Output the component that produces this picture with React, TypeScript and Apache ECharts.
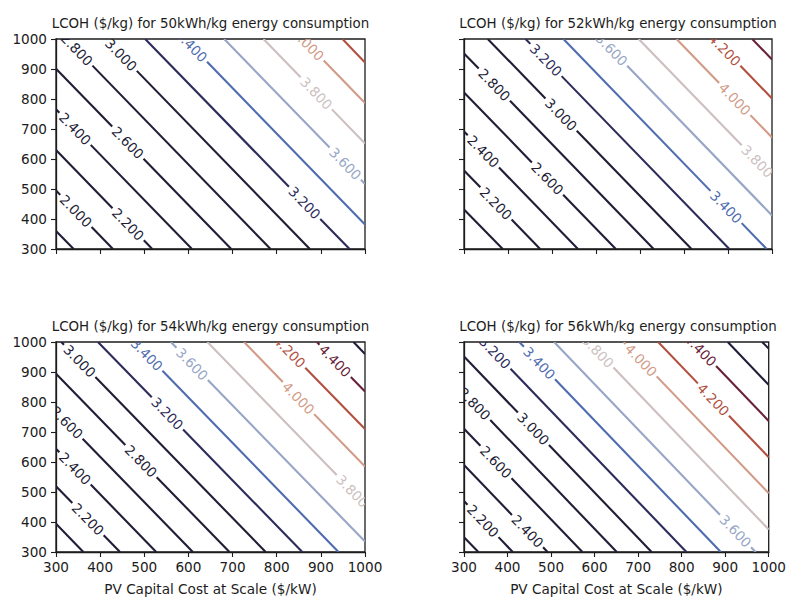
import React, { useEffect, useRef } from "react";
import * as echarts from "echarts";

// ---- chart data -----------------------------------------------------------
const panelTitles = [
  "LCOH ($/kg) for 50kWh/kg energy consumption",
  "LCOH ($/kg) for 52kWh/kg energy consumption",
  "LCOH ($/kg) for 54kWh/kg energy consumption",
  "LCOH ($/kg) for 56kWh/kg energy consumption",
];
const xAxisName = "PV Capital Cost at Scale ($/kW)";
const axisMin = 300;
const axisMax = 1000;
const axisStep = 100;

// Contour levels (LCOH, $/kg), their end points [PV cost, y value] where each
// contour enters and leaves the plotted box, and where along the line the
// inline label sits (fraction of the contour length, null = unlabeled).
const levels50 = [1.8, 2.0, 2.2, 2.4, 2.6, 2.8, 3.0, 3.2, 3.4, 3.6, 3.8, 4.0, 4.2];
const from50 = [[300, 360], [300, 495], [300, 630], [300, 766], [300, 901], [324, 1000], [413, 1000], [502, 1000], [592, 1000], [681, 1000], [770, 1000], [859, 1000], [949, 1000]];
const to50 = [[340, 300], [429, 300], [518, 300], [608, 300], [697, 300], [786, 300], [875, 300], [965, 300], [1000, 382], [1000, 517], [1000, 652], [1000, 787], [1000, 922]];
const labelAt50 = [null, 0.35, 0.75, 0.14, 0.41, 0.05, 0.075, 0.78, 0.036, 0.86, 0.52, 0.085, null];

const levels52 = [2.0, 2.2, 2.4, 2.6, 2.8, 3.0, 3.2, 3.4, 3.6, 3.8, 4.0, 4.2, 4.4];
const from52 = [[300, 432], [300, 562], [300, 692], [300, 822], [300, 952], [354, 1000], [440, 1000], [526, 1000], [612, 1000], [697, 1000], [783, 1000], [869, 1000], [955, 1000]];
const to52 = [[388, 300], [473, 300], [559, 300], [645, 300], [731, 300], [817, 300], [903, 300], [988, 300], [1000, 412], [1000, 542], [1000, 672], [1000, 802], [1000, 932]];
const labelAt52 = [null, 0.42, 0.17, 0.55, 0.16, 0.36, 0.1, 0.8, 0.06, 0.89, 0.61, 0.18, null];

const levels54 = [2.0, 2.2, 2.4, 2.6, 2.8, 3.0, 3.2, 3.4, 3.6, 3.8, 4.0, 4.2, 4.4, 4.6];
const from54 = [[300, 394], [300, 519], [300, 644], [300, 769], [300, 894], [312, 1000], [395, 1000], [478, 1000], [560, 1000], [643, 1000], [726, 1000], [808, 1000], [891, 1000], [974, 1000]];
const to54 = [[362, 300], [445, 300], [527, 300], [610, 300], [693, 300], [775, 300], [858, 300], [940, 300], [1000, 335], [1000, 460], [1000, 585], [1000, 710], [1000, 835], [1000, 960]];
const labelAt54 = [null, 0.5, 0.19, 0.08, 0.49, 0.09, 0.34, 0.06, 0.11, 0.92, 0.45, 0.11, 0.38, null];

const levels56 = [2.0, 2.2, 2.4, 2.6, 2.8, 3.0, 3.2, 3.4, 3.6, 3.8, 4.0, 4.2, 4.4, 4.6, 4.8];
const from56 = [[300, 349], [300, 470], [300, 590], [300, 711], [300, 831], [300, 952], [348, 1000], [427, 1000], [507, 1000], [587, 1000], [667, 1000], [746, 1000], [826, 1000], [906, 1000], [985, 1000]];
const to56 = [[333, 300], [412, 300], [492, 300], [572, 300], [651, 300], [731, 300], [811, 300], [890, 300], [970, 300], [1000, 375], [1000, 496], [1000, 616], [1000, 737], [1000, 857], [1000, 978]];
const labelAt56 = [null, 0.39, 0.76, 0.27, 0.07, 0.37, 0.05, 0.1, 0.9, 0.05, 0.12, 0.5, 0.1, null, null];

// ---- styling ----------------------------------------------------------------
const FONT = '"DejaVu Sans", "Noto Sans", sans-serif';
const TEXT = "#1c1c1c";
const FONT_SIZE = 13.6;
const TITLE_SIZE = 13.4;
const LABEL_SIZE = 13.6;
const LINE_W = 2.1;

// twilight-like palette keyed by level
const levelColors: Record<string, string> = {
  "3.2": "#2c2b5a",
  "3.4": "#4f6cb0",
  "3.6": "#97a6c6",
  "3.8": "#cdbfbf",
  "4.0": "#d19b87",
  "4.2": "#b2503f",
  "4.4": "#682237",
};
const DARK = "#221c36";
const colorOf = (v: number) => levelColors[v.toFixed(1)] || DARK;

// plot boxes in pixels: [left, top, width, height]
const boxes = [
  [56, 39, 309, 210],
  [464, 39, 308, 210],
  [56, 342, 309, 210],
  [464, 342, 308, 210],
];

const panels = [
  { levels: levels50, from: from50, to: to50, labelAt: labelAt50 },
  { levels: levels52, from: from52, to: to52, labelAt: labelAt52 },
  { levels: levels54, from: from54, to: to54, labelAt: labelAt54 },
  { levels: levels56, from: from56, to: to56, labelAt: labelAt56 },
];

let measureCtx: CanvasRenderingContext2D | null = null;
function textWidth(s: string, size: number): number {
  if (!measureCtx) measureCtx = document.createElement("canvas").getContext("2d");
  if (!measureCtx) return s.length * size * 0.6;
  measureCtx.font = `${size}px ${FONT}`;
  return measureCtx.measureText(s).width;
}

function contourItem(params: any, api: any) {
  const a = api.coord([api.value(0), api.value(1)]);
  const b = api.coord([api.value(2), api.value(3)]);
  const frac = api.value(4) as number;
  const level = api.value(5) as number;
  const color = colorOf(level);
  const dx = b[0] - a[0];
  const dy = b[1] - a[1];
  const len = Math.hypot(dx, dy);
  const ux = dx / len;
  const uy = dy / len;
  const lineStyle = { stroke: color, lineWidth: LINE_W, fill: null };
  if (frac < 0) {
    return { type: "line", shape: { x1: a[0], y1: a[1], x2: b[0], y2: b[1] }, style: lineStyle };
  }
  const label = level.toFixed(3);
  const half = textWidth(label, LABEL_SIZE) / 2 + 3;
  const cx = a[0] + dx * frac;
  const cy = a[1] + dy * frac;
  const children: any[] = [];
  if (frac * len - half > 0) {
    children.push({
      type: "line",
      shape: { x1: a[0], y1: a[1], x2: cx - ux * half, y2: cy - uy * half },
      style: lineStyle,
    });
  }
  if ((1 - frac) * len - half > 0) {
    children.push({
      type: "line",
      shape: { x1: cx + ux * half, y1: cy + uy * half, x2: b[0], y2: b[1] },
      style: lineStyle,
    });
  }
  children.push({
    type: "text",
    x: cx,
    y: cy,
    rotation: Math.atan2(-dy, dx),
    style: {
      text: label,
      fill: color,
      fontSize: LABEL_SIZE,
      fontFamily: FONT,
      align: "center",
      verticalAlign: "middle",
      textAlign: "center",
      textVerticalAlign: "middle",
    },
  });
  return { type: "group", children };
}

export default function App() {
  const ref = useRef<HTMLDivElement>(null);

  useEffect(() => {
    if (!ref.current) return;
    const chart = echarts.init(ref.current, undefined, { renderer: "svg" });

    const grid = boxes.map(([left, top, width, height]) => ({
      left,
      top,
      width,
      height,
      show: true,
      borderColor: TEXT,
      borderWidth: 1.3,
      backgroundColor: "#ffffff",
    }));

    const axisCommon = {
      type: "value" as const,
      min: axisMin,
      max: axisMax,
      interval: axisStep,
      splitLine: { show: false },
      axisLine: { show: true, onZero: false, lineStyle: { color: TEXT, width: 1.3 } },
      axisTick: { show: true, inside: false, length: 5, lineStyle: { color: TEXT, width: 1.1 } },
    };

    const xAxis = boxes.map((_, i) => ({
      ...axisCommon,
      gridIndex: i,
      axisLabel: {
        show: i >= 2,
        fontSize: FONT_SIZE,
        fontFamily: FONT,
        color: TEXT,
        margin: 8,
        formatter: (v: number) => String(v),
      },
      name: i >= 2 ? xAxisName : "",
      nameLocation: "middle",
      nameGap: 30,
      nameTextStyle: { fontSize: FONT_SIZE, fontFamily: FONT, color: TEXT },
    }));

    const yAxis = boxes.map((_, i) => ({
      ...axisCommon,
      gridIndex: i,
      axisLabel: {
        show: i % 2 === 0,
        fontSize: FONT_SIZE,
        fontFamily: FONT,
        color: TEXT,
        margin: 9,
        formatter: (v: number) => String(v),
      },
    }));

    const series = panels.map((p, i) => ({
      type: "custom",
      xAxisIndex: i,
      yAxisIndex: i,
      clip: true,
      silent: true,
      encode: { x: [0, 2], y: [1, 3] },
      data: p.levels.map((lv, k) => [
        p.from[k][0],
        p.from[k][1],
        p.to[k][0],
        p.to[k][1],
        p.labelAt[k] == null ? -1 : (p.labelAt[k] as number),
        lv,
      ]),
      renderItem: contourItem,
    }));

    const graphic = boxes.map(([left, top, width], i) => ({
      type: "text",
      x: left + width / 2,
      y: top - 16,
      style: {
        text: panelTitles[i],
        fill: TEXT,
        fontSize: TITLE_SIZE,
        fontFamily: FONT,
        align: "center",
        verticalAlign: "middle",
        textAlign: "center",
        textVerticalAlign: "middle",
      },
    }));

    chart.setOption({
      animation: false,
      backgroundColor: "#ffffff",
      grid,
      xAxis,
      yAxis,
      series,
      graphic,
    } as any);

    return () => chart.dispose();
  }, []);

  return (
    <div
      ref={ref}
      style={{ position: "absolute", left: 0, top: 0, width: 789, height: 599 }}
    />
  );
}
